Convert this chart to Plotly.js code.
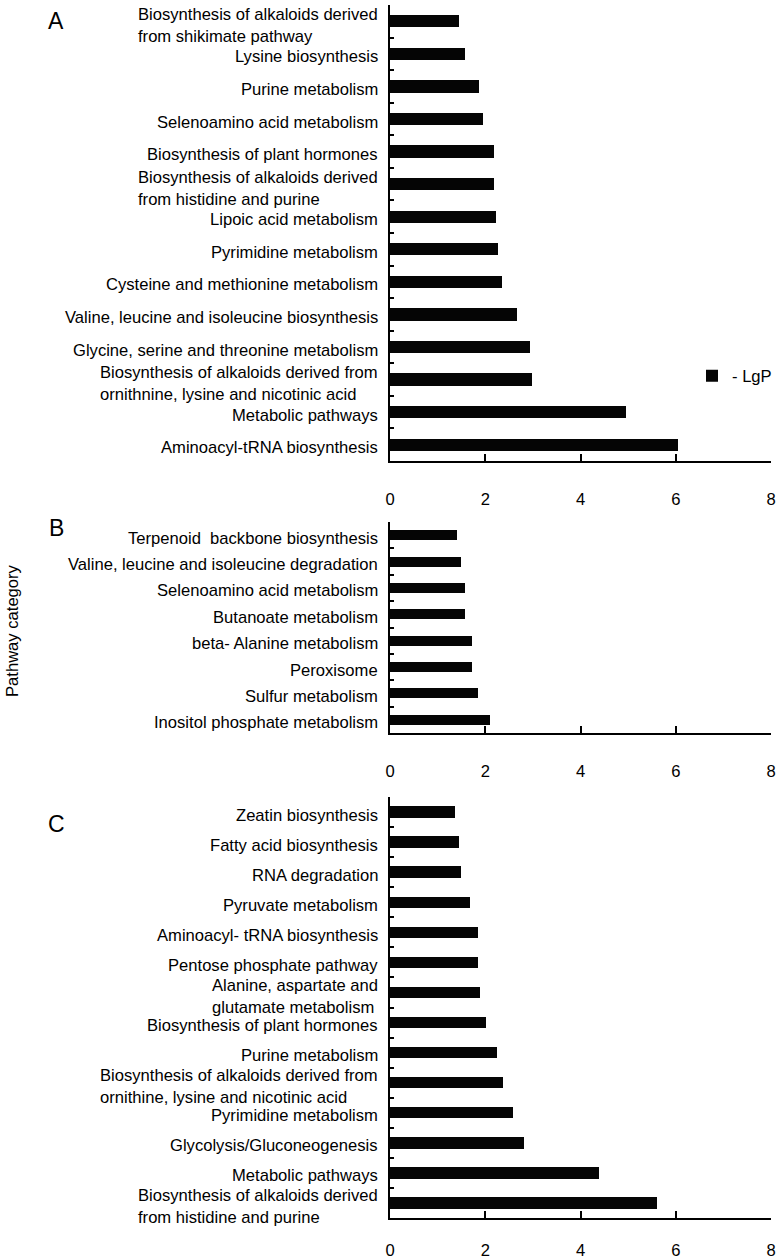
<!DOCTYPE html>
<html>
<head>
<meta charset="utf-8">
<script src="https://cdn.plot.ly/plotly-3.0.1.min.js"></script>
<style>
  html, body { margin: 0; padding: 0; background: #ffffff; }
  #chart { width: 778px; height: 1259px; }
</style>
</head>
<body>
<div id="chart"></div>
<script>
// ---- Data (categories listed top to bottom) ----
var catsA = [
  "Biosynthesis of alkaloids derived<br>from shikimate pathway",
  "Lysine biosynthesis",
  "Purine metabolism",
  "Selenoamino acid metabolism",
  "Biosynthesis of plant hormones",
  "Biosynthesis of alkaloids derived<br>from histidine and purine",
  "Lipoic acid metabolism",
  "Pyrimidine metabolism",
  "Cysteine and methionine metabolism",
  "Valine, leucine and isoleucine biosynthesis",
  "Glycine, serine and threonine metabolism",
  "Biosynthesis of alkaloids derived from<br>ornithnine, lysine and nicotinic acid",
  "Metabolic pathways",
  "Aminoacyl-tRNA biosynthesis"
];
var valsA = [1.44, 1.57, 1.87, 1.96, 2.18, 2.18, 2.23, 2.27, 2.36, 2.67, 2.93, 2.98, 4.95, 6.04];

var catsB = [
  "Terpenoid  backbone biosynthesis",
  "Valine, leucine and isoleucine degradation",
  "Selenoamino acid metabolism",
  "Butanoate metabolism",
  "beta- Alanine metabolism",
  "Peroxisome",
  "Sulfur metabolism",
  "Inositol phosphate metabolism"
];
var valsB = [1.41, 1.50, 1.58, 1.58, 1.72, 1.72, 1.85, 2.11];

var catsC = [
  "Zeatin biosynthesis",
  "Fatty acid biosynthesis",
  "RNA degradation",
  "Pyruvate metabolism",
  "Aminoacyl- tRNA biosynthesis",
  "Pentose phosphate pathway",
  "Alanine, aspartate and<br>glutamate metabolism",
  "Biosynthesis of plant hormones",
  "Purine metabolism",
  "Biosynthesis of alkaloids derived from<br>ornithine, lysine and nicotinic acid",
  "Pyrimidine metabolism",
  "Glycolysis/Gluconeogenesis",
  "Metabolic pathways",
  "Biosynthesis of alkaloids derived<br>from histidine and purine"
];
var valsC = [1.36, 1.45, 1.50, 1.67, 1.84, 1.84, 1.89, 2.02, 2.24, 2.37, 2.59, 2.81, 4.39, 5.61];

var xTicks = [0, 2, 4, 6, 8];
var panelLetters = ["A", "B", "C"];
var seriesName = "- LgP";
var yTitle = "Pathway category";

// ---- Build ----
var FONT = "Liberation Sans, Arial, sans-serif";
var FS = 16.6;
var W = 778, H = 1259;
function py(pix) { return 1 - pix / H; }

function barTrace(cats, vals, xa, ya, show) {
  return {
    type: "bar", orientation: "h",
    y: cats.map(function (c, i) { return i; }),
    x: vals,
    xaxis: xa, yaxis: ya,
    width: 0.38,
    marker: { color: "#050505", line: { width: 0 } },
    name: seriesName,
    showlegend: show,
    hoverinfo: "x"
  };
}

var data = [
  barTrace(catsA, valsA, "x", "y", true),
  barTrace(catsB, valsB, "x2", "y2", false),
  barTrace(catsC, valsC, "x3", "y3", false)
];

function xAxis(anchor, standoff) {
  return {
    anchor: anchor, domain: [390 / W, 771 / W],
    range: [0, 8], tickvals: xTicks, ticktext: xTicks.map(String),
    showline: true, linewidth: 2, linecolor: "#000",
    ticks: "inside", ticklen: 7, tickwidth: 2, tickcolor: "#000",
    showgrid: false, zeroline: false,
    ticklabelstandoff: standoff,
    tickfont: { family: FONT, size: FS, color: "#000" },
    fixedrange: true
  };
}
function yAxis(anchor, n, top, bottom) {
  var bounds = [];
  for (var i = -1; i < n; i++) bounds.push(i + 0.5);
  return {
    anchor: anchor, domain: [py(bottom), py(top)],
    range: [n - 0.5, -0.5],
    tickmode: "array", tickvals: bounds,
    showticklabels: false,
    showline: true, linewidth: 2, linecolor: "#000",
    ticks: "inside", ticklen: 4, tickwidth: 2, tickcolor: "#000",
    showgrid: false, zeroline: false,
    fixedrange: true
  };
}

var annotations = [];
function addLabels(cats, xref, yref) {
  cats.forEach(function (c, i) {
    var twoLine = c.indexOf("<br>") >= 0;
    annotations.push({
      xref: xref, yref: yref, x: 0, y: i,
      text: c, showarrow: false,
      xanchor: "right", yanchor: "middle", align: "left",
      xshift: -10, yshift: twoLine ? -4 : -3,
      font: { family: FONT, size: FS, color: "#000" }
    });
  });
}
addLabels(catsA, "x", "y");
addLabels(catsB, "x2", "y2");
addLabels(catsC, "x3", "y3");

var letterY = [21, 528, 824];
panelLetters.forEach(function (L, i) {
  annotations.push({
    xref: "paper", yref: "paper", x: 56 / W, y: py(letterY[i]),
    text: L, showarrow: false, xanchor: "center", yanchor: "middle",
    font: { family: FONT, size: 23, color: "#000" }
  });
});
annotations.push({
  xref: "paper", yref: "paper", x: 12 / W, y: py(631),
  text: yTitle, showarrow: false, textangle: -90,
  xanchor: "center", yanchor: "middle",
  font: { family: FONT, size: FS, color: "#000" }
});

var layout = {
  width: W, height: H,
  margin: { l: 0, r: 0, t: 0, b: 0, pad: 0 },
  paper_bgcolor: "#fff", plot_bgcolor: "rgba(0,0,0,0)",
  showlegend: true,
  legend: {
    x: 692 / W, y: py(376), xanchor: "left", yanchor: "middle",
    bgcolor: "rgba(0,0,0,0)", borderwidth: 0,
    font: { family: FONT, size: FS, color: "#000" }
  },
  xaxis: xAxis("y", 22),
  yaxis: yAxis("x", catsA.length, 5, 461),
  xaxis2: xAxis("y2", 22),
  yaxis2: yAxis("x2", catsB.length, 522, 733),
  xaxis3: xAxis("y3", 16),
  yaxis3: yAxis("x3", catsC.length, 797, 1218),
  annotations: annotations,
  bargap: 0
};

Plotly.newPlot("chart", data, layout, { staticPlot: true, displayModeBar: false });
</script>
</body>
</html>
